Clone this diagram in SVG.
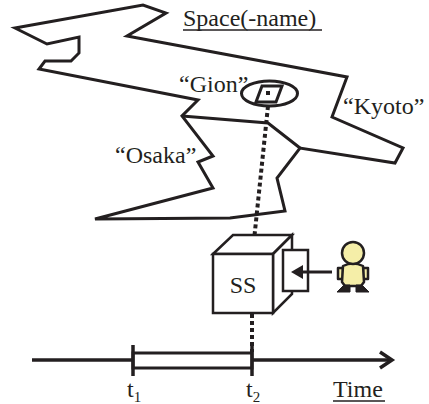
<svg xmlns="http://www.w3.org/2000/svg" width="429" height="404" viewBox="0 0 429 404">
  <style>
    text { font-family: 'Liberation Serif', 'Times New Roman', 'DejaVu Serif', serif; font-size: 24px; fill: #231f20; }
    .ln { fill: none; stroke: #231f20; stroke-width: 3; stroke-linejoin: miter; }
    .dot { fill: none; stroke: #231f20; stroke-width: 4; stroke-dasharray: 4 3; }
    .face { fill: #ffffff; stroke: #231f20; stroke-width: 2.5; stroke-linejoin: miter; }
    .ul { stroke: #231f20; stroke-width: 1.5; }
  </style>

  <rect width="429" height="404" fill="#ffffff"/>

  <!-- region map -->
  <g id="space">
    <path class="ln" d="M15,28 L143,5 L166,13 L127,36 L347,77 L332,117 L403,148 L395,163 L300,148 L277,178 L285,211 L230,218 L95,219 L213,188 L198,162 L213,156 L182,116 L198,100 L39,69 L45,61 L71,61 L79,53 L79,37 L47,44 Z"/>
    <path class="ln" d="M182,116 L268,123 L300,148"/>
    <text x="183" y="26" font-size="25" font-family="Liberation Serif, serif">Space(-name)</text>
    <line class="ul" x1="183" y1="30" x2="322" y2="30"/>
  </g>

  <g id="osaka">
    <text x="115" y="163" font-family="Liberation Serif, serif">“Osaka”</text>
  </g>

  <g id="kyoto">
    <text x="343" y="114" font-family="Liberation Serif, serif">“Kyoto”</text>
  </g>

  <g id="gion">
    <text x="179" y="92" font-family="Liberation Serif, serif">“Gion”</text>
    <ellipse cx="269.5" cy="93.5" rx="28" ry="12.5" fill="#ffffff" stroke="#231f20" stroke-width="3"/>
    <path d="M262,86 L282,86 L276,102 L256,102 Z" fill="none" stroke="#231f20" stroke-width="3"/>
    <rect x="266" y="91" width="4" height="4" fill="#231f20"/>
  </g>

  <!-- connectors -->
  <g id="connectors">
    <path class="dot" d="M268,106 L253,250"/>
    <path class="dot" d="M252,314 L252,352"/>
  </g>

  <!-- sensing station cube -->
  <g id="ss">
    <path class="face" d="M213,254 L233,235 L292,235 L273,254 Z"/>
    <path class="face" d="M273,254 L292,235 L292,294 L273,313 Z"/>
    <rect class="face" x="213" y="254" width="60" height="59"/>
    <rect class="face" x="283" y="250" width="25" height="41"/>
    <text x="243" y="293" text-anchor="middle" font-family="Liberation Serif, serif">SS</text>
  </g>

  <!-- input arrow -->
  <g id="input">
    <path d="M332,272 L300,272" stroke="#231f20" stroke-width="3"/>
    <path d="M291,272 L303,265 L303,279 Z" fill="#231f20"/>
  </g>

  <!-- user -->
  <g id="user" stroke="#231f20" stroke-width="2.5" stroke-linejoin="round">
    <rect x="338" y="268" width="5" height="11" fill="#f5eea8"/>
    <rect x="363" y="268" width="5" height="11" fill="#f5eea8"/>
    <path d="M343,266 Q353,261 363,266 L364,282 L361,286 L345,286 L342,282 Z" fill="#f5eea8"/>
    <circle cx="353" cy="253" r="11" fill="#f5eea8"/>
    <path d="M337,292 L344,285 L350,285 L350,292 Z" fill="#231f20" stroke-width="1"/>
    <path d="M369,292 L362,285 L356,285 L356,292 Z" fill="#231f20" stroke-width="1"/>
  </g>

  <!-- time axis -->
  <g id="timeline">
    <line x1="32" y1="360" x2="391" y2="360" stroke="#231f20" stroke-width="3.5"/>
    <path d="M380,352 L392,360 L380,368" fill="none" stroke="#231f20" stroke-width="3.5"/>
    <rect x="133" y="353" width="119" height="15" fill="#ffffff" stroke="#231f20" stroke-width="3"/>
    <line x1="133" y1="345" x2="133" y2="376" stroke="#231f20" stroke-width="3.5"/>
    <line x1="252" y1="345" x2="252" y2="376" stroke="#231f20" stroke-width="3.5"/>
    <text x="127" y="397" font-family="Liberation Serif, serif">t<tspan font-size="15" dy="5">1</tspan></text>
    <text x="246" y="397" font-family="Liberation Serif, serif">t<tspan font-size="15" dy="5">2</tspan></text>
    <text x="333" y="397" font-family="Liberation Serif, serif">Time</text>
    <line class="ul" x1="333" y1="401" x2="385" y2="401"/>
  </g>
</svg>
